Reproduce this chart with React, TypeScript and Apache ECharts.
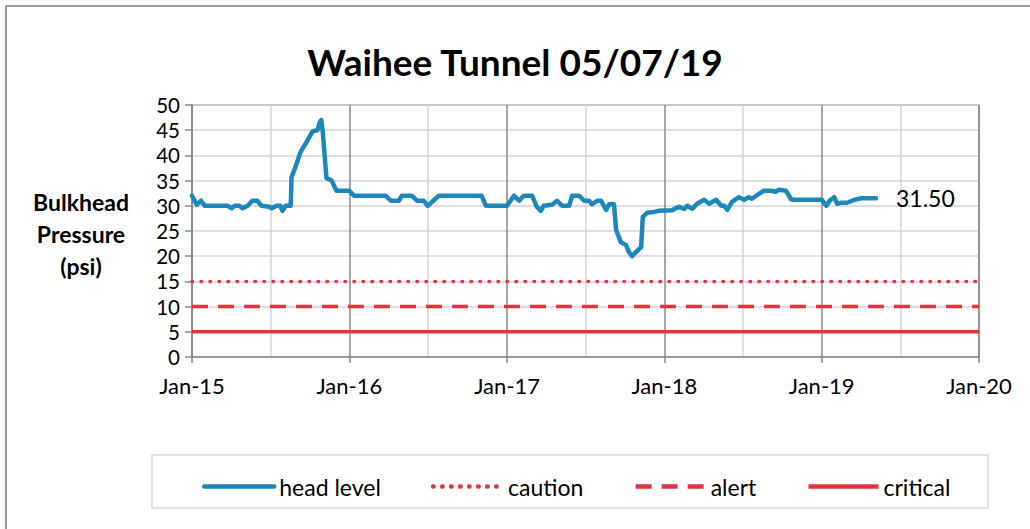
import React, { useEffect, useRef } from "react";
import * as echarts from "echarts";

const TITLE = "Waihee Tunnel 05/07/19";
const Y_NAME = "Bulkhead\nPressure\n(psi)";
const MONTHS = ["Jan", "Feb", "Mar", "Apr", "May", "Jun", "Jul", "Aug", "Sep", "Oct", "Nov", "Dec"];
const X_MIN = "2015-01-01";
const X_MAX = "2020-01-01";
const Y_MIN = 0;
const Y_MAX = 50;
const Y_STEP = 5;

const HEAD_DATES = [
  "2015-01-01", "2015-01-12", "2015-01-22", "2015-01-31", "2015-03-25", "2015-04-03", "2015-04-10",
  "2015-04-21", "2015-04-28", "2015-05-10", "2015-05-21", "2015-06-02", "2015-06-11", "2015-06-30",
  "2015-07-05", "2015-07-16", "2015-07-25", "2015-07-30", "2015-08-06", "2015-08-18", "2015-08-20",
  "2015-08-29", "2015-09-10", "2015-09-24", "2015-10-08", "2015-10-19", "2015-10-24", "2015-10-28",
  "2015-10-31", "2015-11-09", "2015-11-21", "2015-12-02", "2016-01-01", "2016-01-12", "2016-03-26",
  "2016-04-06", "2016-04-25", "2016-05-02", "2016-05-25", "2016-06-06", "2016-06-22", "2016-07-01",
  "2016-07-20", "2016-07-27", "2016-11-03", "2016-11-13", "2017-01-01", "2017-01-17", "2017-01-29",
  "2017-02-09", "2017-02-28", "2017-03-11", "2017-03-20", "2017-03-27", "2017-04-15", "2017-04-27",
  "2017-05-09", "2017-05-25", "2017-06-01", "2017-06-17", "2017-06-29", "2017-07-10", "2017-07-17",
  "2017-07-29", "2017-08-07", "2017-08-19", "2017-08-26", "2017-09-06", "2017-09-11", "2017-09-22",
  "2017-10-04", "2017-10-11", "2017-10-18", "2017-10-27", "2017-11-08", "2017-11-12", "2017-11-22",
  "2017-12-03", "2017-12-19", "2018-01-19", "2018-01-24", "2018-02-04", "2018-02-16", "2018-02-23",
  "2018-03-07", "2018-03-18", "2018-04-03", "2018-04-15", "2018-05-01", "2018-05-13", "2018-05-20",
  "2018-05-27", "2018-06-07", "2018-06-23", "2018-07-05", "2018-07-16", "2018-07-23", "2018-08-04",
  "2018-08-20", "2018-09-05", "2018-09-17", "2018-09-24", "2018-10-10", "2018-10-22", "2018-10-28",
  "2019-01-01", "2019-01-12", "2019-01-19", "2019-01-30", "2019-02-06", "2019-02-15", "2019-03-01",
  "2019-03-18", "2019-04-03", "2019-05-07",
];

const HEAD_PSI = [
  32, 30.2, 31, 30, 30, 29.5, 30,
  30, 29.5, 30, 31, 31, 30, 29.8,
  29.5, 30, 30, 29, 30, 30, 35.7,
  37.7, 40.7, 42.7, 44.8, 45, 46.5, 47,
  45, 35.5, 35, 33, 33, 32, 32,
  31, 31, 32, 32, 31, 31, 30,
  31.5, 32, 32, 30, 30, 32, 31,
  32, 32, 29.8, 29, 30, 30.2, 31,
  30, 30, 32, 32, 31, 31, 30.3,
  31, 31, 29.2, 30.3, 30.3, 25.2, 22.8,
  22.2, 20.8, 20, 20.8, 21.8, 27.8, 28.6,
  28.7, 29, 29.1, 29.4, 29.8, 29.4, 30,
  29.4, 30.4, 31.2, 30.4, 31.2, 30, 30,
  29.2, 30.8, 31.7, 31.2, 31.7, 31.4, 32.1,
  33, 33, 32.8, 33.2, 33, 31.3, 31.2,
  31.2, 30, 31, 31.7, 30.4, 30.6, 30.6,
  31.2, 31.5, 31.5,
];

const THRESHOLD_NAMES = ["caution", "alert", "critical"];
const THRESHOLD_VALUES = [15, 10, 5];
const SERIES_NAMES = ["head level", ...THRESHOLD_NAMES];

const BLUE = "#1b87bb";
const RED = "#e5323f";
const FONT = "Lato, 'Open Sans', sans-serif";

export default function App() {
  const ref = useRef<HTMLDivElement>(null);

  useEffect(() => {
    if (!ref.current) return;
    const chart = echarts.init(ref.current, null, { renderer: "svg" });

    const headData = HEAD_DATES.map((d, i) => [d, HEAD_PSI[i]]);
    const thresholdStyles: any[] = [
      { type: [0.5, 8.5], cap: "round", width: 3.5 },
      { type: [16, 10], cap: "butt", width: 3.5 },
      { type: "solid", width: 3.5 },
    ];

    const option: any = {
      animation: false,
      backgroundColor: "#ffffff",
      textStyle: { fontFamily: FONT },
      title: {
        text: TITLE,
        left: "center",
        top: 38,
        textStyle: { fontFamily: FONT, fontSize: 37, fontWeight: "bold", color: "#000" },
      },
      grid: {
        left: 192,
        right: 51,
        top: 105,
        bottom: 172,
        show: true,
        borderColor: "#8a8a8a",
        borderWidth: 1.5,
        containLabel: false,
      },
      legend: {
        data: SERIES_NAMES,
        left: 197,
        top: 470,
        itemWidth: 70,
        itemHeight: 14,
        itemGap: 50,
        itemStyle: { opacity: 0 },
        lineStyle: { width: 4.5 },
        textStyle: { fontFamily: FONT, fontSize: 23, color: "#000", padding: [0, 0, 0, 0] },
      },
      xAxis: {
        type: "time",
        min: X_MIN,
        max: X_MAX,
        splitNumber: 5,
        axisLine: { show: true, lineStyle: { color: "#8a8a8a", width: 1.5 } },
        axisTick: { show: true, length: 6, lineStyle: { color: "#8a8a8a", width: 1.5 } },
        axisLabel: {
          show: true,
          margin: 17,
          fontSize: 22,
          fontFamily: FONT,
          color: "#000",
          showMinLabel: true,
          showMaxLabel: true,
          formatter: (v: number) => {
            const d = new Date(v);
            return MONTHS[d.getMonth()] + "-" + String(d.getFullYear()).slice(2);
          },
        },
        splitLine: { show: true, lineStyle: { color: "#8a8a8a", width: 1.5 } },
        minorTick: { show: false, splitNumber: 2 },
        minorSplitLine: { show: true, lineStyle: { color: "#d4d4d4", width: 1.5 } },
      },
      yAxis: {
        type: "value",
        min: Y_MIN,
        max: Y_MAX,
        interval: Y_STEP,
        axisLine: { show: true, lineStyle: { color: "#8a8a8a", width: 1.5 } },
        axisTick: { show: true, length: 7, lineStyle: { color: "#8a8a8a", width: 1.5 } },
        axisLabel: { margin: 12, fontSize: 20.5, lineHeight: 20, fontFamily: FONT, color: "#000" },
        splitLine: { show: true, lineStyle: { color: "#d4d4d4", width: 1.5 } },
      },
      graphic: [
        {
          type: "polyline",
          shape: { points: [[6, 529], [6, 6], [1030, 6]] },
          style: { stroke: "#7a7a7a", lineWidth: 1.5, fill: "none" },
          silent: true,
        },
        {
          type: "rect",
          shape: { x: 152, y: 455, width: 836, height: 53 },
          style: { stroke: "#d9d9d9", lineWidth: 1.5, fill: "none" },
          silent: true,
          z: -1,
        },
        {
          type: "text",
          x: 81,
          y: 234,
          style: {
            text: Y_NAME,
            font: "bold 23px " + FONT,
            fill: "#000",
            align: "center",
            verticalAlign: "middle",
            lineHeight: 32,
          },
          silent: true,
        },
      ],
      series: [
        {
          name: SERIES_NAMES[0],
          type: "line",
          data: headData,
          symbol: "none",
          showSymbol: false,
          z: 5,
          lineStyle: { color: BLUE, width: 4.5, join: "round", cap: "round" },
          itemStyle: { color: BLUE },
          endLabel: {
            show: true,
            distance: 20,
            fontSize: 23,
            fontFamily: FONT,
            color: "#000",
            formatter: (p: any) => Number(p.value[1]).toFixed(2),
          },
        },
        ...THRESHOLD_NAMES.map((name, i) => ({
          name,
          type: "line",
          data: [[X_MIN, THRESHOLD_VALUES[i]], [X_MAX, THRESHOLD_VALUES[i]]],
          symbol: "none",
          showSymbol: false,
          z: 4,
          lineStyle: { color: RED, ...thresholdStyles[i] },
          itemStyle: { color: RED },
        })),
      ],
    };

    chart.setOption(option);
    return () => chart.dispose();
  }, []);

  return (
    <div
      ref={ref}
      style={{ position: "absolute", left: 0, top: 0, width: 1030, height: 529 }}
    />
  );
}
